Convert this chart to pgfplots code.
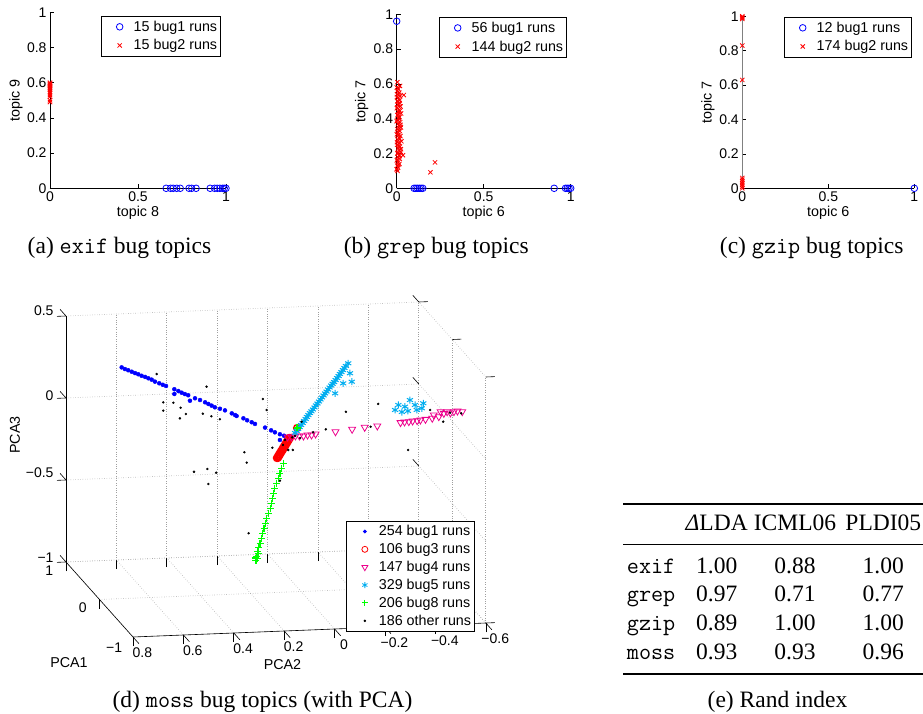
\documentclass[border=0pt]{standalone}
\usepackage{fontspec}
\setmainfont{Liberation Serif}
\newfontfamily\hv{Liberation Sans}
\usepackage{pgfplots}
\pgfplotsset{compat=1.18}
\newcommand\tk{\hv\fontsize{14}{16}\selectfont}
\newcommand\lb{\hv\fontsize{14.3}{16}\selectfont}
\newcommand\capf{\fontsize{23.5}{28}\selectfont}
\newcommand\tbf{\fontsize{23.5}{28}\selectfont}
\pgfplotsset{
 limg/.style={legend image code/.code={\draw[draw=none,fill=none] (0pt,-1pt) rectangle (29pt,1pt); \draw[##1] plot coordinates {(17pt,0pt)};}},
 my2d/.style={
   scale only axis, xmin=0, xmax=1, ymin=0, ymax=1,
   axis x line=bottom, axis y line=left,
   axis line style={-, black, line width=0.6pt},
   tick align=inside, major tick length=4pt,
   tick style={black, line width=0.6pt},
   xtick={0,0.5,1}, ytick={0,0.2,0.4,0.6,0.8,1},
   tick label style={font=\tk},
   /pgf/number format/assume math mode=true,
   label style={font=\lb},
   clip=false,
   legend cell align=left,
   legend style={font=\lb, draw=black, line width=0.8pt, inner xsep=1.5pt, inner ysep=2.5pt, anchor=north east, row sep=2.8pt},
   xlabel style={at={(axis description cs:0.5,-0.14)}, anchor=center},
 },
 pbug1/.style={only marks, mark=o, blue, mark size=3.3pt, line width=0.8pt, forget plot},
 pbug2/.style={only marks, mark=x, red, mark size=3pt, line width=0.8pt, forget plot},
 lbug1/.style={mark=o, blue, mark size=3.3pt, line width=0.8pt, limg},
 lbug2/.style={mark=x, red, mark size=3pt, line width=0.8pt, limg},
}
\begin{document}
\begin{tikzpicture}
\path[use as bounding box] (0pt,0pt) rectangle (923pt,713pt);

% (a)
\begin{axis}[my2d, at={(50pt,524.7pt)}, anchor=south west, width=176pt, height=176pt,
  xlabel={topic 8}, ylabel={topic 9},
  ylabel style={at={(axis description cs:-0.193,0.5)}, anchor=center},
  legend style={at={(axis description cs:0.972,0.979)}}]
\addplot[pbug1] coordinates {(0.66,0) (0.685,0) (0.70,0) (0.72,0) (0.74,0) (0.79,0) (0.805,0) (0.83,0) (0.91,0) (0.935,0) (0.95,0) (0.965,0) (0.98,0) (0.99,0) (1.0,0)};
\addplot[pbug2] coordinates {(0,0.49) (0,0.50) (0,0.52) (0,0.53) (0,0.54) (0,0.55) (0,0.56) (0,0.565) (0,0.57) (0,0.575) (0,0.58) (0,0.585) (0,0.59) (0,0.595) (0,0.60)};
\addlegendimage{lbug1}\addlegendentry{15 bug1 runs}
\addlegendimage{lbug2}\addlegendentry{15 bug2 runs}
\end{axis}

% (b)
\begin{axis}[my2d, at={(396.7pt,524.7pt)}, anchor=south west, width=174pt, height=174pt,
  xlabel={topic 6}, ylabel={topic 7},
  ylabel style={at={(axis description cs:-0.201,0.5)}, anchor=center},
  legend style={at={(axis description cs:0.979,0.984)}}]
\addplot[pbug1] coordinates {(0,0.96) (0.10,0) (0.11,0) (0.12,0) (0.13,0) (0.14,0) (0.15,0) (0.905,0) (0.97,0) (0.98,0) (0.99,0) (1.0,0)};
\addplot[pbug2] coordinates {(0.000,0.58) (0.010,0.57) (0.004,0.56) (0.015,0.55) (0.002,0.54) (0.020,0.53) (0.008,0.52) (0.012,0.51) (0.003,0.50) (0.018,0.49) (0.006,0.48) (0.022,0.47) (0.001,0.46) (0.014,0.45) (0.009,0.44) (0.025,0.43) (0.004,0.42) (0.016,0.41) (0.011,0.40) (0.002,0.39) (0.020,0.38) (0.007,0.37) (0.013,0.36) (0.024,0.35) (0.003,0.34) (0.017,0.33) (0.009,0.32) (0.001,0.31) (0.021,0.30) (0.012,0.29) (0.005,0.28) (0.027,0.27) (0.015,0.26) (0.002,0.25) (0.019,0.24) (0.008,0.23) (0.011,0.22) (0.023,0.21) (0.004,0.20) (0.014,0.19) (0.006,0.18) (0.018,0.17) (0.001,0.16) (0.010,0.15) (0.016,0.14) (0.003,0.13) (0.008,0.12) (0.001,0.11) (0.005,0.10)
 (0.006,0.575) (0.012,0.545) (0.001,0.525) (0.017,0.505) (0.010,0.485) (0.003,0.465) (0.019,0.445) (0.007,0.425) (0.013,0.405) (0.000,0.385) (0.022,0.365) (0.015,0.345) (0.005,0.325) (0.010,0.305) (0.018,0.285) (0.002,0.265) (0.012,0.245) (0.024,0.225) (0.007,0.205) (0.016,0.185) (0.003,0.165) (0.009,0.135)
 (0.004,0.61) (0.019,0.588) (0.041,0.536) (0.036,0.19) (0.22,0.149) (0.194,0.092) (0.000,0.109)};
\addlegendimage{lbug1}\addlegendentry{56 bug1 runs}
\addlegendimage{lbug2}\addlegendentry{144 bug2 runs}
\end{axis}

% (c)
\begin{axis}[my2d, at={(742.3pt,524.7pt)}, anchor=south west, width=172pt, height=172pt,
  xlabel={topic 6}, ylabel={topic 7},
  y axis line style={gray, line width=1pt},
  ylabel style={at={(axis description cs:-0.2,0.5)}, anchor=center},
  legend style={at={(axis description cs:0.987,0.996)}}]
\addplot[pbug1] coordinates {(1,0)};
\addplot[pbug2] coordinates {(0,1.0) (0,0.995) (0,0.99) (0,0.985) (0,0.83) (0,0.63) (0,0.06) (0,0.05) (0,0.04) (0,0.03) (0,0.02) (0,0.01) (0,0.0)};
\addlegendimage{lbug1}\addlegendentry{12 bug1 runs}
\addlegendimage{lbug2}\addlegendentry{174 bug2 runs}
\end{axis}

% (d)
\begin{axis}[at={(301.1pt,285.5pt)}, anchor=origin,
  x={(-33.5pt,37.5pt)}, y={(-252pt,-10pt)}, z={(0pt,164pt)},
  xmin=-1, xmax=1, ymin=-0.6, ymax=0.8, zmin=-1, zmax=0.5,
  xtick={-1,0,1}, xticklabels={−1,0,1},
  ytick={-0.6,-0.4,-0.2,0,0.2,0.4,0.6,0.8}, yticklabels={−0.6,−0.4,−0.2,0,0.2,0.4,0.6,0.8},
  ztick={-1,-0.5,0,0.5}, zticklabels={−1,−0.5,0,0.5},
  xtick pos=left, ytick pos=left, ztick pos=right, zticklabel pos=left,
  grid=major, grid style={dotted, gray!75, line width=0.7pt},
  axis line style={draw=none},
  tick align=outside, major tick length=9pt, tick style={black, line width=0.6pt},
  tick label style={font=\tk}, clip=false,
  legend cell align=left,
  legend style={at={(axis cs:0,-0.69,-0.61)}, anchor=north east, font=\lb, draw=black, line width=0.8pt, inner xsep=1.5pt, inner ysep=2.5pt, row sep=2pt}]
\draw[black, line width=0.6pt] (axis cs:1,0.8,-1) -- (axis cs:1,0.8,0.5);
\draw[black, line width=0.6pt] (axis cs:1,0.8,-1) -- (axis cs:-1,0.8,-1) -- (axis cs:-1,-0.6,-1);
\addplot3[only marks, mark=*, blue, mark size=2pt, forget plot] coordinates {(0,0.712,0.410) (0,0.699,0.399) (0,0.686,0.391) (0,0.672,0.381) (0,0.659,0.372) (0,0.646,0.364) (0,0.633,0.354) (0,0.619,0.346) (0,0.606,0.337) (0,0.593,0.328) (0,0.580,0.315) (0,0.563,0.304) (0,0.549,0.294) (0,0.536,0.286) (0,0.503,0.264) (0,0.487,0.252) (0,0.474,0.241) (0,0.461,0.232) (0,0.448,0.224) (0,0.503,0.235) (0,0.441,0.190) (0,0.421,0.204) (0,0.401,0.192) (0,0.381,0.177) (0,0.368,0.166) (0,0.355,0.155) (0,0.342,0.144) (0,0.322,0.134) (0,0.302,0.123) (0,0.275,0.103) (0,0.262,0.092) (0,0.256,0.086) (0,0.229,0.070) (0,0.214,0.057) (0,0.196,0.044) (0,0.183,0.033) (0,0.143,0.008) (0,0.119,-0.010) (0,0.104,-0.023) (0,0.084,-0.036) (0,0.068,-0.046) (0,0.051,-0.057) (0,0.084,-0.071)};
\addplot3[only marks, mark=o, red, mark size=3.3pt, line width=1.6pt, forget plot] coordinates {(0,0.096,-0.180) (0,0.092,-0.170) (0,0.088,-0.160) (0,0.084,-0.150) (0,0.080,-0.140) (0,0.076,-0.131) (0,0.072,-0.121) (0,0.068,-0.110) (0,0.064,-0.101) (0,0.060,-0.091) (0,0.056,-0.081) (0,0.052,-0.071) (0,0.048,-0.061) (0,0.092,-0.180) (0,0.088,-0.170) (0,0.084,-0.160) (0,0.080,-0.150) (0,0.076,-0.140) (0,0.072,-0.131) (0,0.068,-0.121) (0,0.064,-0.110) (0,0.060,-0.101) (0,0.056,-0.091) (0,0.052,-0.081) (0,0.048,-0.071) (0,0.044,-0.061) (0,0.016,-0.002)};
\addplot3[only marks, mark=triangle, mark options={rotate=180}, magenta, mark size=4pt, line width=0.8pt, forget plot] coordinates {(-0.5,0.120,0.064) (-0.5,0.105,0.063) (-0.5,0.089,0.068) (-0.5,0.073,0.067) (-0.5,0.057,0.066) (-0.5,0.041,0.071) (-0.5,0.025,0.070) (-0.5,0.009,0.075) (-0.5,-0.070,0.084) (-0.5,-0.136,0.095) (-0.5,-0.186,0.104) (-0.5,-0.236,0.109) (-0.5,-0.328,0.124) (-0.5,-0.344,0.127) (-0.5,-0.361,0.128) (-0.5,-0.376,0.131) (-0.5,-0.394,0.132) (-0.5,-0.427,0.138) (-0.5,-0.454,0.143) (-0.5,-0.480,0.151) (-0.5,-0.500,0.170) (-0.5,-0.513,0.179) (-0.5,-0.540,0.178) (-0.5,-0.573,0.176) (-0.5,-0.487,0.181) (-0.5,-0.460,0.163) (-0.5,-0.554,0.181) (-0.5,-0.526,0.171) (-0.5,-0.407,0.135)};
\addplot3[only marks, mark=asterisk, cyan, mark size=3.5pt, line width=1pt, forget plot] coordinates {(0,0.024,-0.032) (0,0.018,-0.020) (0,0.012,-0.008) (0,0.006,0.003) (0,0.000,0.015) (0,-0.006,0.027) (0,-0.012,0.039) (0,-0.018,0.051) (0,-0.023,0.063) (0,-0.029,0.074) (0,-0.035,0.086) (0,-0.041,0.096) (0,-0.047,0.107) (0,-0.053,0.119) (0,-0.059,0.131) (0,-0.065,0.142) (0,-0.071,0.154) (0,-0.077,0.166) (0,-0.083,0.178) (0,-0.089,0.190) (0,-0.095,0.202) (0,-0.101,0.213) (0,-0.107,0.225) (0,-0.113,0.237) (0,-0.119,0.249) (0,-0.125,0.259) (0,-0.131,0.269) (0,-0.137,0.281) (0,-0.143,0.293) (0,-0.149,0.305) (0,-0.154,0.317) (0,-0.160,0.328) (0,-0.166,0.340) (0,-0.172,0.352) (0,-0.178,0.364) (0,-0.187,0.380) (0,-0.194,0.319) (0,-0.167,0.259) (0,-0.201,0.267) (0,-0.135,0.200) (0,-0.386,0.114) (0,-0.373,0.084) (0,-0.412,0.102) (0,-0.432,0.141) (0,-0.452,0.110) (0,-0.459,0.079) (0,-0.485,0.118) (0,-0.479,0.088) (0,-0.400,0.070) (0,-0.424,0.075)};
\addplot3[only marks, mark=+, green, mark size=3.5pt, line width=1.2pt, forget plot] coordinates {(0,0.071,-0.214) (0,0.077,-0.244) (0,0.084,-0.274) (0,0.090,-0.304) (0,0.097,-0.334) (0,0.104,-0.364) (0,0.110,-0.395) (0,0.113,-0.425) (0,0.119,-0.455) (0,0.123,-0.485) (0,0.130,-0.515) (0,0.137,-0.545) (0,0.140,-0.576) (0,0.147,-0.606) (0,0.152,-0.636) (0,0.156,-0.666) (0,0.163,-0.696) (0,0.168,-0.720) (0,0.174,-0.747) (0,0.176,-0.777) (0,0.179,-0.801) (0,0.172,-0.790) (0,0.182,-0.785) (0,0.170,-0.760) (0,0.016,-0.002)};
\addplot3[only marks, mark=*, black, mark size=1pt, forget plot] coordinates {(0,0.573,0.361) (0,0.375,0.272) (0,0.547,0.187) (0,0.507,0.182) (0,0.547,0.136) (0,0.478,0.150) (0,0.457,0.110) (0,0.481,0.085) (0,0.390,0.108) (0,0.356,0.090) (0,0.322,0.070) (0,0.152,0.183) (0,0.137,0.115) (0,0.114,-0.116) (0,0.225,-0.137) (0,0.051,-0.134) (0,0.216,-0.201) (0,0.425,-0.244) (0,0.372,-0.230) (0,0.337,-0.255) (0,0.368,-0.322) (0,0.208,-0.632) (0,0.033,-0.135) (0,0.084,-0.319) (0,-0.306,0.125) (0,-0.178,0.085) (0,-0.098,-0.017) (0,-0.276,-0.012) (0,-0.512,0.076) (0,-0.564,0.001) (0,-0.591,0.054) (-0.5,-0.569,0.166) (0,-0.002,0.035) (0,-0.048,-0.032) (0,0.035,-0.058) (0,-0.425,-0.163) (0,0.064,-0.072) (0,0.024,-0.050) (0,0.004,-0.064) (0,0.072,-0.102)};
\addlegendimage{mark=*, blue, mark size=1.5pt, limg}\addlegendentry{254 bug1 runs}
\addlegendimage{mark=o, red, mark size=3pt, line width=0.8pt, limg}\addlegendentry{106 bug3 runs}
\addlegendimage{mark=triangle, mark options={rotate=180}, magenta, mark size=3.5pt, line width=0.8pt, limg}\addlegendentry{147 bug4 runs}
\addlegendimage{mark=asterisk, cyan, mark size=3pt, line width=0.8pt, limg}\addlegendentry{329 bug5 runs}
\addlegendimage{mark=+, green, mark size=3pt, line width=1pt, limg}\addlegendentry{206 bug8 runs}
\addlegendimage{mark=*, black, mark size=0.8pt, limg}\addlegendentry{186 other runs}
\end{axis}

\begin{scope}[every node/.style={inner sep=0pt}]
\node[font=\lb, rotate=90] at (15pt,278pt) {PCA3};
\node[font=\lb] at (69pt,50.5pt) {PCA1};
\node[font=\lb] at (282.5pt,48pt) {PCA2};

\node[anchor=base, font=\capf] at (119.5pt,459.5pt) {(a) \texttt{exif} bug topics};
\node[anchor=base, font=\capf] at (436.3pt,459.5pt) {(b) \texttt{grep} bug topics};
\node[anchor=base, font=\capf] at (811.7pt,459.5pt) {(c) \texttt{gzip} bug topics};
\node[anchor=base, font=\capf] at (262.5pt,6pt) {(d) \texttt{moss} bug topics (with PCA)};
\node[anchor=base, font=\capf] at (777.5pt,6pt) {(e) Rand index};

\draw[line width=1.8pt] (623pt,209pt) -- (923pt,209pt);
\draw[line width=1pt] (623pt,169pt) -- (923pt,169pt);
\draw[line width=1.8pt] (623pt,39pt) -- (923pt,39pt);
\node[anchor=base, font=\tbf] at (716.7pt,183pt) {\textit{Δ}LDA};
\node[anchor=base, font=\tbf] at (795pt,183pt) {ICML06};
\node[anchor=base, font=\tbf] at (883.3pt,183pt) {PLDI05};
\node[anchor=base west, font=\tbf] at (626.7pt,140pt) {\texttt{exif}};
\node[anchor=base west, font=\tbf] at (626.7pt,111.3pt) {\texttt{grep}};
\node[anchor=base west, font=\tbf] at (626.7pt,82.5pt) {\texttt{gzip}};
\node[anchor=base west, font=\tbf] at (626.7pt,53.7pt) {\texttt{moss}};
\node[anchor=base, font=\tbf] at (716.7pt,140pt) {1.00};
\node[anchor=base, font=\tbf] at (795pt,140pt) {0.88};
\node[anchor=base, font=\tbf] at (883.3pt,140pt) {1.00};
\node[anchor=base, font=\tbf] at (716.7pt,111.3pt) {0.97};
\node[anchor=base, font=\tbf] at (795pt,111.3pt) {0.71};
\node[anchor=base, font=\tbf] at (883.3pt,111.3pt) {0.77};
\node[anchor=base, font=\tbf] at (716.7pt,82.5pt) {0.89};
\node[anchor=base, font=\tbf] at (795pt,82.5pt) {1.00};
\node[anchor=base, font=\tbf] at (883.3pt,82.5pt) {1.00};
\node[anchor=base, font=\tbf] at (716.7pt,53.7pt) {0.93};
\node[anchor=base, font=\tbf] at (795pt,53.7pt) {0.93};
\node[anchor=base, font=\tbf] at (883.3pt,53.7pt) {0.96};
\end{scope}
\end{tikzpicture}
\end{document}
